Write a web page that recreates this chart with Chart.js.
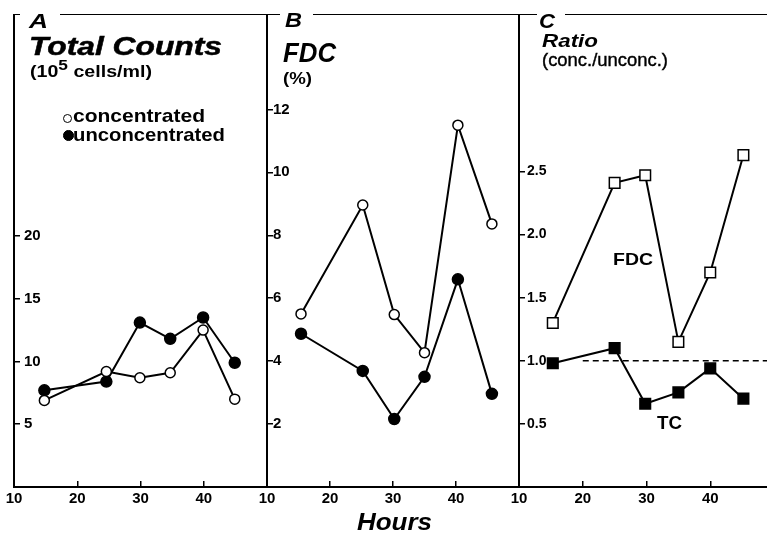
<!DOCTYPE html>
<html lang="en">
<head>
<meta charset="UTF-8">
<title>Total counts, FDC and ratio</title>
<script src="https://cdn.jsdelivr.net/npm/chart.js"></script>
<style>
  body {
    margin: 0;
    width: 767px;
    height: 535px;
    overflow: hidden;
    position: relative;
    background: #fff;
    color: #000;
    font-family: "Liberation Sans", Arial, sans-serif;
  }
  canvas { position: absolute; top: -10px; }
  .t { position: absolute; white-space: nowrap; line-height: 1; transform-origin: 0 0; }
  .bi { font-weight: bold; font-style: italic; }
  .b { font-weight: bold; }
  .sup { position: relative; top: -7px; font-size: 15px; }
  .rule { position: absolute; top: 14px; height: 0; border-top: 1.5px solid #000; }
  .dot { position: absolute; border-radius: 50%; border: 1.5px solid #000; box-sizing: border-box; }
</style>
</head>
<body>
  <canvas id="chartA"></canvas>
  <canvas id="chartB"></canvas>
  <canvas id="chartC"></canvas>

  <!-- top frame with panel letters -->
  <div class="rule" style="left:13px; width:7px;"></div>
  <div class="rule" style="left:60px; width:220px;"></div>
  <div class="rule" style="left:313px; width:224px;"></div>
  <div class="rule" style="left:565px; width:202px;"></div>

  <div class="t bi" data-w="19" style="left:29px; top:11px; font-size:20px;">A</div>
  <div class="t bi" data-w="17" style="left:285px; top:10px; font-size:20px;">B</div>
  <div class="t bi" data-w="16" style="left:539px; top:11px; font-size:20px;">C</div>

  <div class="t bi" data-w="193" style="left:29px; top:34px; font-size:25px; -webkit-text-stroke:0.5px #000;">Total Counts</div>
  <div class="t b" data-w="122" style="left:30px; top:63px; font-size:17px;">(10<span class="sup">5</span> cells/ml)</div>
  <div class="dot" style="left:63px; top:114px; width:9px; height:9px;"></div>
  <div class="t b" data-w="132" style="left:73px; top:106px; font-size:19px;">concentrated</div>
  <div class="dot" style="left:63px; top:130px; width:10.5px; height:10.5px; background:#000;"></div>
  <div class="t b" data-w="152" style="left:73px; top:125px; font-size:19px;">unconcentrated</div>

  <div class="t bi" data-w="53" style="left:283px; top:39px; font-size:28px;">FDC</div>
  <div class="t b" data-w="29" style="left:283px; top:71px; font-size:16px;">(%)</div>

  <div class="t bi" data-w="56" style="left:542px; top:31px; font-size:19px;">Ratio</div>
  <div class="t" data-w="126" style="left:542px; top:51px; font-size:18px; -webkit-text-stroke:0.4px #000;">(conc./unconc.)</div>
  <div class="t b" data-w="40" style="left:613px; top:251px; font-size:17px;">FDC</div>
  <div class="t b" data-w="25" style="left:657px; top:413px; font-size:19px;">TC</div>

  <div class="t bi" data-w="75" style="left:357px; top:510px; font-size:24px;">Hours</div>

  <script>
    // panel A: total counts (10^5 cells/ml)
    const hoursA = [14.8, 24.6, 29.9, 34.7, 39.9, 44.9];
    const countsConc = [6.9, 9.2, 8.7, 9.1, 12.5, 7.0];
    const countsUnconc = [7.7, 8.4, 13.1, 11.8, 13.5, 9.9];
    const yTicksA = [5, 10, 15, 20];

    // panel B: FDC (%)
    const hoursB = [15.4, 25.2, 30.2, 35.0, 40.3, 45.7];
    const fdcConc = [5.5, 8.96, 5.48, 4.27, 11.5, 8.36];
    const fdcUnconc = [4.87, 3.69, 2.16, 3.5, 6.6, 2.96];
    const yTicksB = [2, 4, 6, 8, 10, 12];

    // panel C: ratio conc./unconc.
    const hoursC = [15.3, 25.0, 29.8, 35.0, 40.0, 45.2];
    const ratioFDC = [1.30, 2.41, 2.47, 1.15, 1.70, 2.63];
    const ratioTC = [0.98, 1.10, 0.66, 0.75, 0.94, 0.70];
    const yTicksC = [0.5, 1.0, 1.5, 2.0, 2.5];
    const refRatio = 1.0;
    const refFrom = 20;

    const xTicks = [10, 20, 30, 40];

    Chart.defaults.font.family = '"Liberation Sans", Arial, sans-serif';
    Chart.defaults.color = '#000';

    function points(xs, ys) {
      return xs.map((x, i) => ({ x: x, y: ys[i] }));
    }

    function series(xs, ys, style, radius, fill) {
      return {
        data: points(xs, ys),
        borderColor: '#000',
        borderWidth: 2,
        tension: 0,
        pointStyle: style,
        pointRadius: radius,
        pointBackgroundColor: fill,
        pointBorderColor: '#000',
        pointBorderWidth: 1.5
      };
    }

    function makePanel(id, left, right, ymax, yTicks, yPad, yFont, yFmt, datasets) {
      const canvas = document.getElementById(id);
      canvas.width = right - left + 80;
      canvas.height = 545;
      canvas.style.left = (left - 40) + 'px';
      const axisLines = { drawOnChartArea: false, tickLength: -6, color: '#000', lineWidth: 1.5 };
      return new Chart(canvas, {
        type: 'line',
        data: { datasets: datasets },
        options: {
          responsive: false,
          animation: false,
          // the y axis box comes out 2*pad-6 wide, so take that off the left padding
          layout: { padding: { left: 40 - (2 * yPad - 6), right: 40, top: 25, bottom: 18 } },
          plugins: { legend: { display: false }, tooltip: { enabled: false } },
          scales: {
            x: {
              type: 'linear', min: 10, max: 50,
              afterBuildTicks: s => { s.ticks = xTicks.map(v => ({ value: v })); },
              grid: axisLines,
              border: { color: '#000', width: 2 },
              ticks: { padding: 9, font: { size: 15, weight: 'bold' } }
            },
            y: {
              min: 0, max: ymax,
              afterBuildTicks: s => { s.ticks = yTicks.map(v => ({ value: v })); },
              grid: axisLines,
              border: { color: '#000', width: 2 },
              ticks: { mirror: true, padding: yPad, font: { size: yFont, weight: 'bold' }, callback: yFmt }
            }
          }
        }
      });
    }

    makePanel('chartA', 14, 267, 37.6, yTicksA, 10, 15, v => v, [
      series(hoursA, countsConc, 'circle', 5, '#fff'),
      series(hoursA, countsUnconc, 'circle', 5.5, '#000')
    ]);

    makePanel('chartB', 267, 519, 15.0, yTicksB, 6, 15, v => v, [
      series(hoursB, fdcConc, 'circle', 5, '#fff'),
      series(hoursB, fdcUnconc, 'circle', 5.5, '#000')
    ]);

    makePanel('chartC', 519, 774, 3.74, yTicksC, 8, 14, v => v.toFixed(1), [
      series(hoursC, ratioFDC, 'rect', 7.5, '#fff'),
      series(hoursC, ratioTC, 'rect', 7.5, '#000'),
      {
        data: [{ x: refFrom, y: refRatio }, { x: 50, y: refRatio }],
        borderColor: '#000',
        borderWidth: 1.5,
        borderDash: [6, 4],
        pointRadius: 0
      }
    ]);

    // stretch the labels to the widths they have in the figure
    document.querySelectorAll('.t[data-w]').forEach(el => {
      const w = el.getBoundingClientRect().width;
      el.style.transform = 'scaleX(' + (+el.dataset.w / w) + ')';
    });
  </script>
</body>
</html>
